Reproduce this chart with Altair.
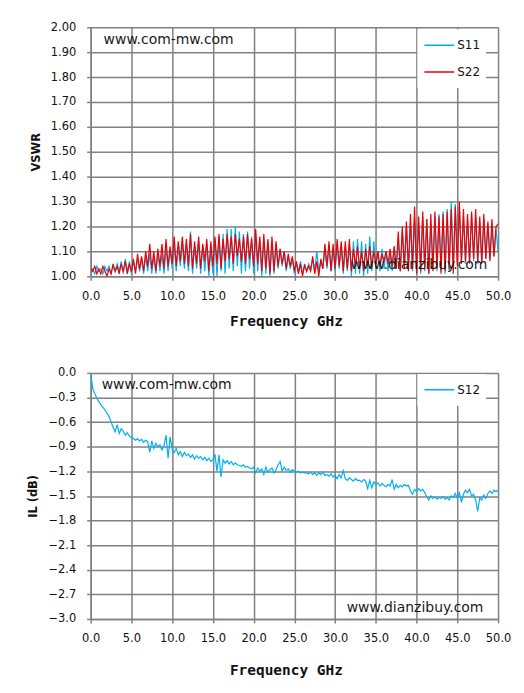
import altair as alt
import pandas as pd
import numpy as np

# ---------------- data ----------------
freq = [round(i * 0.25, 2) for i in range(201)]

s11 = [
    1.02, 1.03, 1.01, 1.04,  1.02, 1.03, 1.01, 1.04,  1.02, 1.04, 1.01, 1.04,
    1.02, 1.05, 1.02, 1.06,  1.01, 1.07, 1.02, 1.06,  1.01, 1.06, 1.02, 1.07,
    1.02, 1.07, 1.01, 1.08,  1.02, 1.09, 1.01, 1.08,  1.01, 1.10, 1.02, 1.09,
    1.01, 1.12, 1.02, 1.11,  1.03, 1.13, 1.02, 1.12,  1.04, 1.14, 1.03, 1.13,
    1.02, 1.18, 1.01, 1.12,  1.03, 1.14, 1.01, 1.12,  1.02, 1.13, 1.00, 1.11,
    1.01, 1.15, 1.00, 1.16,  1.02, 1.17, 1.01, 1.19,  1.03, 1.19, 1.02, 1.20,
    1.04, 1.18, 1.01, 1.17,  1.02, 1.18, 1.03, 1.16,  1.01, 1.17, 1.02, 1.15,
    1.00, 1.15, 1.01, 1.14,  1.00, 1.14, 1.01, 1.13,  1.03, 1.11, 1.04, 1.10,
    1.02, 1.08, 1.03, 1.07,  1.01, 1.05, 1.02, 1.06,  1.01, 1.04, 1.02, 1.05,
    1.03, 1.07, 1.02, 1.10,  1.02, 1.06, 1.03, 1.11,  1.03, 1.12, 1.02, 1.11,
    1.02, 1.13, 1.03, 1.12,  1.01, 1.12, 1.02, 1.13,  1.00, 1.14, 1.01, 1.15,
    1.01, 1.14, 1.00, 1.13,  1.01, 1.16, 1.02, 1.14,  1.03, 1.10, 1.02, 1.11,
    1.03, 1.10, 1.02, 1.09,  1.02, 1.12, 1.03, 1.15,  1.02, 1.18, 1.03, 1.20,
    1.03, 1.22, 1.02, 1.23,  1.02, 1.22, 1.01, 1.24,  1.02, 1.23, 1.01, 1.21,
    1.03, 1.24, 1.02, 1.25,  1.02, 1.26, 1.01, 1.27,  1.02, 1.30, 1.03, 1.29,
    1.05, 1.28, 1.06, 1.24,  1.05, 1.23, 1.06, 1.25,  1.06, 1.24, 1.05, 1.22,
    1.06, 1.23, 1.07, 1.21,  1.07, 1.20, 1.08, 1.19,  1.10,
]

s22 = [
    1.03, 1.02, 1.04, 1.01,  1.03, 1.01, 1.04, 1.02,  1.00, 1.03, 1.01, 1.05,
    1.02, 1.04, 1.01, 1.05,  1.02, 1.06, 1.01, 1.05,  1.02, 1.07, 1.01, 1.09,
    1.03, 1.08, 1.02, 1.10,  1.04, 1.13, 1.03, 1.10,  1.02, 1.11, 1.04, 1.13,
    1.03, 1.15, 1.04, 1.12,  1.05, 1.16, 1.04, 1.14,  1.06, 1.16, 1.05, 1.15,
    1.04, 1.17, 1.03, 1.14,  1.05, 1.16, 1.03, 1.13,  1.06, 1.15, 1.02, 1.14,
    1.04, 1.16, 1.05, 1.17,  1.03, 1.15, 1.06, 1.17,  1.07, 1.16, 1.05, 1.17,
    1.08, 1.15, 1.06, 1.16,  1.05, 1.17, 1.07, 1.15,  1.04, 1.19, 1.05, 1.16,
    1.02, 1.17, 1.03, 1.15,  1.01, 1.16, 1.02, 1.14,  1.04, 1.11, 1.05, 1.10,
    1.03, 1.09, 1.04, 1.08,  1.02, 1.06, 1.01, 1.05,  1.00, 1.05, 1.02, 1.04,
    1.02, 1.08, 1.01, 1.06,  1.00, 1.07, 1.03, 1.13,  1.04, 1.14, 1.02, 1.13,
    1.03, 1.15, 1.04, 1.14,  1.02, 1.14, 1.03, 1.15,  1.02, 1.11, 1.04, 1.12,
    1.03, 1.10, 1.02, 1.11,  1.04, 1.12, 1.03, 1.10,  1.05, 1.10, 1.04, 1.09,
    1.06, 1.10, 1.05, 1.11,  1.04, 1.12, 1.03, 1.18,  1.02, 1.20, 1.03, 1.22,
    1.02, 1.25, 1.03, 1.28,  1.01, 1.24, 1.02, 1.26,  1.03, 1.23, 1.01, 1.25,
    1.02, 1.26, 1.03, 1.24,  1.01, 1.25, 1.02, 1.26,  1.03, 1.27, 1.01, 1.28,
    1.04, 1.30, 1.05, 1.27,  1.06, 1.25, 1.05, 1.26,  1.07, 1.27, 1.06, 1.24,
    1.05, 1.25, 1.07, 1.22,  1.06, 1.23, 1.08, 1.20,  1.21,
]

s12 = [
    0.00, -0.19, -0.25, -0.31,  -0.35, -0.39, -0.42, -0.45,  -0.49, -0.53, -0.60, -0.66,
    -0.72, -0.63, -0.74, -0.68,  -0.71, -0.76, -0.73, -0.77,  -0.79, -0.80, -0.82, -0.80,
    -0.83, -0.81, -0.85, -0.82,  -0.84, -0.97, -0.83, -0.92,  -0.86, -0.90, -0.88, -0.94,
    -0.89, -0.76, -1.04, -0.78,  -0.93, -0.97, -0.92, -1.00,  -0.96, -1.02, -0.97, -1.01,
    -0.99, -1.03, -1.00, -1.05,  -1.01, -1.04, -1.02, -1.06,  -1.03, -1.07, -1.04, -1.08,
    -1.06, -0.99, -1.20, -1.00,  -1.27, -1.06, -1.10, -1.07,  -1.11, -1.08, -1.12, -1.10,
    -1.12, -1.13, -1.14, -1.12,  -1.15, -1.14, -1.16, -1.17,  -1.15, -1.22, -1.16, -1.20,
    -1.17, -1.24, -1.15, -1.21,  -1.18, -1.16, -1.22, -1.18,  -1.12, -1.08, -1.20, -1.15,
    -1.19, -1.17, -1.21, -1.18,  -1.20, -1.21, -1.20, -1.22,  -1.21, -1.22, -1.22, -1.23,
    -1.21, -1.24, -1.22, -1.25,  -1.22, -1.24, -1.21, -1.25,  -1.24, -1.26, -1.23, -1.27,
    -1.25, -1.29, -1.24, -1.28,  -1.19, -1.29, -1.31, -1.28,  -1.30, -1.32, -1.29, -1.31,
    -1.31, -1.33, -1.30, -1.32,  -1.41, -1.31, -1.40, -1.33,  -1.36, -1.34, -1.38, -1.35,
    -1.37, -1.39, -1.36, -1.38,  -1.30, -1.42, -1.36, -1.40,  -1.37, -1.39, -1.36, -1.38,
    -1.37, -1.44, -1.48, -1.42,  -1.45, -1.41, -1.44, -1.42,  -1.46, -1.51, -1.55, -1.50,
    -1.53, -1.51, -1.54, -1.52,  -1.53, -1.51, -1.54, -1.52,  -1.55, -1.50, -1.52, -1.47,
    -1.53, -1.46, -1.58, -1.48,  -1.43, -1.46, -1.42, -1.50,  -1.48, -1.55, -1.69, -1.52,
    -1.55, -1.49, -1.53, -1.47,  -1.44, -1.47, -1.43, -1.45,  -1.43,
]

x_ticks = [0, 5, 10, 15, 20, 25, 30, 35, 40, 45, 50]
vswr_ticks = [round(1.0 + 0.1 * i, 2) for i in range(11)]
il_ticks = [round(-3.0 + 0.3 * i, 1) for i in range(11)]

CYAN = "#00B0F0"
RED = "#F00000"
GRID = "#808080"
FONT = "DejaVu Sans"

top_df = pd.DataFrame({
    "f": freq * 2,
    "v": s11 + s22,
    "s": ["S11"] * len(s11) + ["S22"] * len(s22),
})
bot_df = pd.DataFrame({"f": freq, "v": s12, "s": ["S12"] * len(s12)})

W, H1, H2 = 409, 250, 247


def x_enc(tpad):
    return alt.X(
        "f:Q",
        scale=alt.Scale(domain=[0, 50], nice=False, zero=False),
        axis=alt.Axis(
            values=x_ticks, format=".1f", title="Frequency  GHz",
            titleFont="DejaVu Sans Mono", titleFontSize=14.5, titleFontWeight="bold",
            titleColor="#111", titlePadding=tpad, titleX=196, titleAnchor="middle",
        ),
    )


def legend(ly):
    return alt.Legend(
        title=None, orient="none", legendX=328, legendY=ly,
        fillColor="white", padding=6, symbolType="stroke", clipHeight=20,
        symbolSize=900, symbolStrokeWidth=1.5, labelFont=FONT,
        labelFontSize=12, labelColor="#111", labelOffset=2, rowPadding=7,
    )


top_lines = []
for name in ["S11", "S22"]:
    top_lines.append(
        alt.Chart(top_df).transform_filter(alt.datum.s == name).mark_line(
            strokeWidth=1.2, clip=True
        ).encode(
            x=x_enc(13),
            y=alt.Y(
                "v:Q",
                scale=alt.Scale(domain=[1.0, 2.0], nice=False, zero=False),
                axis=alt.Axis(values=vswr_ticks, format=".2f", title="VSWR",
                              titlePadding=9),
            ),
            color=alt.Color(
                "s:N",
                scale=alt.Scale(domain=["S11", "S22"], range=[CYAN, RED]),
                legend=legend(2),
            ),
        )
    )

wm_top = pd.DataFrame({"t": ["www.com-mw.com", "www.dianzibuy.com"],
                       "px": [13, 261], "py": [17, 243]})
wm_bot = pd.DataFrame({"t": ["www.com-mw.com", "www.dianzibuy.com"],
                       "px": [11, 257], "py": [16, 240]})


def watermark(df):
    return alt.Chart(df).mark_text(
        font=FONT, fontSize=14, color="#1a1a1a", align="left", baseline="alphabetic"
    ).encode(x=alt.X("px:Q", scale=None), y=alt.Y("py:Q", scale=None), text="t:N")


top = alt.layer(*top_lines, watermark(wm_top)).properties(width=W, height=H1)

bot_line = alt.Chart(bot_df).mark_line(strokeWidth=1.2, clip=True).encode(
    x=x_enc(19),
    y=alt.Y(
        "v:Q",
        scale=alt.Scale(domain=[-3.0, 0.0], nice=False, zero=False),
        axis=alt.Axis(values=il_ticks, format=".1f", title="IL (dB)", titlePadding=9),
    ),
    color=alt.Color("s:N", scale=alt.Scale(domain=["S12"], range=[CYAN]),
                    legend=legend(1)),
)
bot = alt.layer(bot_line, watermark(wm_bot)).properties(width=W, height=H2)

chart = alt.vconcat(top, bot, spacing=97, bounds="flush").resolve_scale(
    color="independent", y="independent", x="independent"
).properties(
    padding={"left": 20, "top": 12, "right": 5, "bottom": 5},
    background="white",
).configure_view(strokeWidth=0).configure_axis(
    grid=True, gridColor=GRID, gridWidth=1.5, gridOpacity=1,
    domainColor=GRID, domainWidth=1.5, tickColor=GRID, tickWidth=1.5, tickSize=4,
    labelFont=FONT, labelFontSize=11.5, labelColor="#111",
    titleFont=FONT, titleFontSize=11.5, titleFontWeight="bold", titleColor="#111",
).configure_axisX(labelPadding=10, labelFlush=False).configure_axisY(labelPadding=11)

chart.save("out.html", embed_options={"renderer": "svg", "actions": False})
